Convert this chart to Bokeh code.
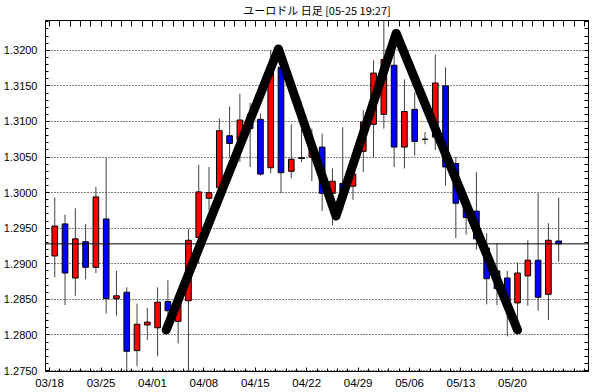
from bokeh.plotting import figure
from bokeh.models import (ColumnDataSource, LinearAxis, FixedTicker, SingleIntervalTicker,
                          Span, Range1d, NumeralTickFormatter)
from bokeh.embed import file_html
from bokeh.resources import INLINE

title_text = "ユーロドル 日足 [05-25 19:27]"

dates = ["03/18", "03/19", "03/20", "03/21", "03/22",
         "03/25", "03/26", "03/27", "03/28", "03/29",
         "04/01", "04/02", "04/03", "04/04", "04/05",
         "04/08", "04/09", "04/10", "04/11", "04/12",
         "04/15", "04/16", "04/17", "04/18", "04/19",
         "04/22", "04/23", "04/24", "04/25", "04/26",
         "04/29", "04/30", "05/01", "05/02", "05/03",
         "05/06", "05/07", "05/08", "05/09", "05/10",
         "05/13", "05/14", "05/15", "05/16", "05/17",
         "05/20", "05/21", "05/22", "05/23", "05/24"]

opens = [1.2911, 1.2956, 1.2880, 1.2931, 1.2895,
         1.2963, 1.2851, 1.2860, 1.2778, 1.2814,
         1.2810, 1.2847, 1.2819, 1.2848, 1.2937,
         1.2992, 1.3007, 1.3080, 1.3074, 1.3110,
         1.3103, 1.3035, 1.3176, 1.3030, 1.3049,
         1.3050, 1.3064, 1.2999, 1.3013, 1.3009,
         1.3058, 1.3096, 1.3110, 1.3179, 1.3064,
         1.3117, 1.3075, 1.3078, 1.3150, 1.3041,
         1.2985, 1.2974, 1.2922, 1.2890, 1.2880,
         1.2845, 1.2883, 1.2905, 1.2857, 1.2932]
highs = [1.2993, 1.2969, 1.2978, 1.2956, 1.3008,
         1.3049, 1.2890, 1.2867, 1.2844, 1.2838,
         1.2867, 1.2877, 1.2852, 1.2949, 1.3039,
         1.3036, 1.3104, 1.3121, 1.3139, 1.3126,
         1.3111, 1.3200, 1.3190, 1.3096, 1.3128,
         1.3090, 1.3083, 1.3034, 1.3092, 1.3050,
         1.3116, 1.3186, 1.3245, 1.3200, 1.3159,
         1.3141, 1.3085, 1.3194, 1.3176, 1.3050,
         1.2995, 1.3029, 1.2943, 1.2929, 1.2890,
         1.2902, 1.2933, 1.2999, 1.2957, 1.2993]
lows = [1.2881, 1.2842, 1.2855, 1.2878, 1.2887,
        1.2830, 1.2827, 1.2749, 1.2756, 1.2793,
        1.2770, 1.2812, 1.2788, 1.2745, 1.2900,
        1.2975, 1.2990, 1.3050, 1.3043, 1.3036,
        1.3024, 1.3027, 1.2999, 1.3020, 1.3043,
        1.3016, 1.2974, 1.2954, 1.2975, 1.2990,
        1.3029, 1.3050, 1.3090, 1.3036, 1.3034,
        1.3052, 1.3068, 1.3060, 1.3010, 1.2936,
        1.2941, 1.2920, 1.2843, 1.2842, 1.2798,
        1.2818, 1.2841, 1.2834, 1.2821, 1.2903]
closes = [1.2953, 1.2887, 1.2935, 1.2895, 1.2994,
          1.2851, 1.2855, 1.2777, 1.2815, 1.2818,
          1.2846, 1.2834, 1.2845, 1.2933, 1.3001,
          1.3000, 1.3087, 1.3069, 1.3102, 1.3090,
          1.3026, 1.3169, 1.3028, 1.3047, 1.3048,
          1.3068, 1.2999, 1.3016, 1.2995, 1.3026,
          1.3099, 1.3168, 1.3187, 1.3064, 1.3114,
          1.3072, 1.3075, 1.3154, 1.3036, 1.2985,
          1.2965, 1.2935, 1.2879, 1.2865, 1.2845,
          1.2887, 1.2905, 1.2853, 1.2933, 1.2928]

# double-top pattern line (day index, price)
pattern_day = [10.84, 21.75, 27.35, 33.2, 45.0]
pattern_price = [1.2807, 1.3202, 1.2967, 1.3224, 1.2807]

label_days = [0, 5, 10, 15, 20, 25, 30, 35, 40, 45]
price_ticks_minor = [round(1.2750 + 0.001 * k, 4) for k in range(-1, 51)]

x = [i + 0.5 for i in range(len(dates))]
colors = ["#FF0000" if c >= o else "#0000FF" for o, c in zip(opens, closes)]
src = ColumnDataSource(dict(
    x=x, high=highs, low=lows,
    top=[max(o, c) for o, c in zip(opens, closes)],
    bottom=[min(o, c) for o, c in zip(opens, closes)],
    color=colors))

p = figure(width=593, height=392, output_backend="svg", toolbar_location=None,
           x_range=Range1d(-0.4, 52.4), y_range=Range1d(1.27486, 1.32419),
           min_border_left=44, min_border_right=5, min_border_top=18, min_border_bottom=21,
           x_axis_location=None, y_axis_location=None)
p.background_fill_color = "white"
p.border_fill_color = "white"
p.outline_line_color = "black"
p.outline_line_width = 1

p.title.text = title_text
p.title.align = "center"
p.title.vertical_align = "top"
p.title.text_font = "Noto Sans CJK JP"
p.title.text_font_size = "11px"
p.title.text_font_style = "normal"
p.title.text_color = "black"
p.title.standoff = 2

# axes
yticker = SingleIntervalTicker(interval=0.005, num_minor_ticks=5)
left = LinearAxis(ticker=yticker, formatter=NumeralTickFormatter(format="0.0000"))
left.major_tick_in = 4
left.major_tick_out = 0
left.minor_tick_in = 3
left.minor_tick_out = 0
left.major_label_standoff = 8
left.major_label_text_font = "Liberation Sans"
left.major_label_text_font_size = "11px"
left.major_label_text_color = "black"
p.add_layout(left, "left")

right = LinearAxis(ticker=FixedTicker(ticks=[], minor_ticks=price_ticks_minor))
right.major_tick_in = 0
right.major_tick_out = 0
right.minor_tick_in = 4
right.minor_tick_out = 0
right.major_label_standoff = 0
p.add_layout(right, "right")

xticker = FixedTicker(ticks=label_days, minor_ticks=list(range(0, 53)))
bottom = LinearAxis(ticker=xticker)
bottom.major_label_overrides = {d: dates[d] for d in label_days}
bottom.major_tick_in = 4
bottom.major_tick_out = 0
bottom.minor_tick_in = 3
bottom.minor_tick_out = 0
bottom.major_label_standoff = 5
bottom.major_label_text_font = "Liberation Sans"
bottom.major_label_text_font_size = "11.5px"
bottom.major_label_text_color = "black"
p.add_layout(bottom, "below")

top = LinearAxis(ticker=FixedTicker(ticks=[], minor_ticks=list(range(0, 53))))
top.major_tick_in = 0
top.major_tick_out = 0
top.minor_tick_in = 6
top.minor_tick_out = 0
top.major_label_standoff = 0
p.add_layout(top, "above")

p.xgrid.visible = False
p.ygrid.ticker = yticker
p.ygrid.grid_line_color = "black"
p.ygrid.grid_line_dash = "1 2"
p.ygrid.grid_line_width = 1

p.add_layout(Span(location=closes[-1], dimension="width", line_color="black", line_width=1))

p.segment(x0="x", y0="high", x1="x", y1="low", source=src, line_color="#404040", line_width=1)
p.vbar(x="x", width=0.55, top="top", bottom="bottom", source=src,
       fill_color="color", line_color="black", line_width=1)

p.line([d + 0.5 for d in pattern_day], pattern_price, line_width=9, line_color="black",
       line_join="round", line_cap="round")

open("out.html", "w").write(file_html(p, INLINE))
